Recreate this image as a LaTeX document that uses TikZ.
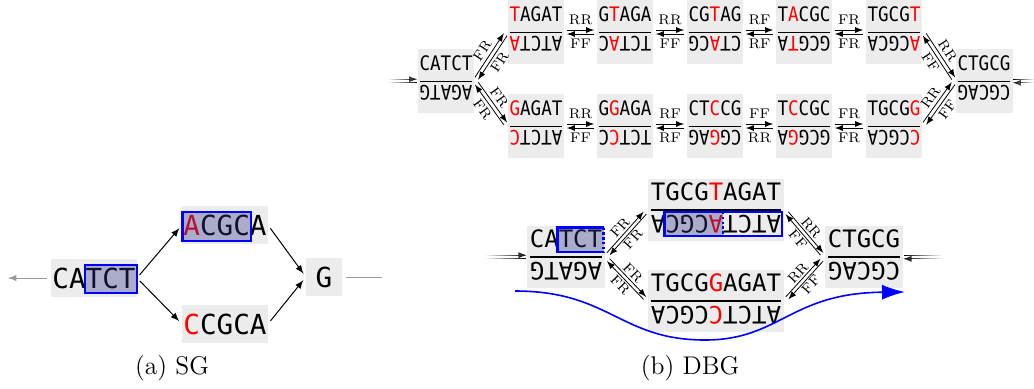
\documentclass[tikz,border=0pt]{standalone}
\usepackage{fontspec}
\usepackage{graphicx}
\usetikzlibrary{calc,arrows.meta,fadings}
\newfontfamily\seqfont{DejaVu Sans Mono}
\newfontfamily\seqnarrow[FakeStretch=0.88]{DejaVu Sans Mono}
\newcommand{\rd}[1]{\textcolor{red}{#1}}
\newcommand{\dstr}[2]{\vbox{\hbox{#1}\kern0.5em\hrule height 0.6pt\kern0.15em\hbox{\rotatebox[origin=c]{180}{#2}}\kern0.3em}}
\newcommand{\dstrw}[2]{\vbox{\hbox{#1}\kern0.35em\hrule height 0.6pt\kern0.2em\hbox{\rotatebox[origin=c]{180}{#2}}\kern0.15em}}
\tikzfading[name=fade left, left color=transparent!100, right color=transparent!0]
\tikzfading[name=fade right, left color=transparent!0, right color=transparent!100]

\begin{document}
\begin{tikzpicture}[x=0.5pt, y=-0.5pt]
    % Define styles
    \tikzstyle{dna} = [fill=gray!15, inner xsep=1pt, inner ysep=3.5pt]
    \tikzstyle{seqtop} = [dna, font=\seqnarrow\fontsize{10}{12}\selectfont]
    \tikzstyle{seqdbg} = [dna, inner xsep=1.5pt, inner ysep=2pt, font=\seqfont\fontsize{12}{14}\selectfont]
    \tikzstyle{seqsg} = [dna, inner xsep=0.5pt, inner ysep=4.4pt, text height=10.2pt, text depth=0pt, font=\seqfont\fontsize{13.8}{16}\selectfont]
    \tikzstyle{arrow} = [->, >=latex, line width=0.4pt]
    \tikzstyle{lab} = [inner sep=1pt, font=\fontsize{7}{8}\selectfont]
    \tikzstyle{labdbg} = [inner sep=0.6pt, font=\fontsize{7}{8}\selectfont]
    \tikzstyle{hl} = [fill={rgb,255:red,50;green,50;blue,140}, fill opacity=0.35]
    \tikzstyle{hlframe} = [draw=blue, line width=1.1pt]
    \tikzstyle{inarrow} = [line width=0.45pt, black!40]
    \tikzstyle{caption} = [font=\fontsize{12.8}{15}\selectfont]

    \useasboundingbox (0,0) rectangle (1034,388);

    % Top graph: end nodes
    \node[seqtop] (c0) at (446,81) {\dstr{CATCT}{AGATG}};
    \node[seqtop] (c6) at (984,81) {\dstr{CTGCG}{CGCAG}};

    % Top graph: upper and lower paths
    \foreach \n/\x/\s/\r in {u1/536/{\rd{T}AGAT}/{ATCT\rd{A}}, u2/625/{G\rd{T}AGA}/{TCT\rd{A}C}, u3/715/{CG\rd{T}AG}/{CT\rd{A}CG}, u4/804/{T\rd{A}CGC}/{GCG\rd{T}A}, u5/894/{TGCG\rd{T}}/{\rd{A}CGCA}}
        \node[seqtop] (\n) at (\x,32) {\dstr{\s}{\r}};
    \foreach \n/\x/\s/\r in {l1/536/{\rd{G}AGAT}/{ATCT\rd{C}}, l2/625/{G\rd{G}AGA}/{TCT\rd{C}C}, l3/715/{CT\rd{C}CG}/{CG\rd{G}AG}, l4/804/{T\rd{C}CGC}/{GCG\rd{G}A}, l5/894/{TGCG\rd{G}}/{\rd{C}CGCA}}
        \node[seqtop] (\n) at (\x,126) {\dstr{\s}{\r}};

    % Top graph: paired edges along the paths
    \foreach \a/\b/\p/\q in {u1/u2/RR/FF, u2/u3/RR/FF, u3/u4/RF/RF, u4/u5/FR/FR, l1/l2/RR/FF, l2/l3/RF/RF, l3/l4/FF/RR, l4/l5/FR/FR} {
        \draw[arrow, shorten >=1pt, shorten <=1pt] ([yshift=1pt]\a.east) -- node[lab, above=1.5pt] {\p} ([yshift=1pt]\b.west);
        \draw[arrow, <-, shorten >=1pt, shorten <=1pt] ([yshift=-1pt]\a.east) -- node[lab, below=1.5pt] {\q} ([yshift=-1pt]\b.west);
    }

    % Top graph: paired edges to and from the end nodes
    \foreach \a/\b/\p/\q in {c0/u1/FR/FR, c0/l1/FR/FR, u5/c6/RR/FF, l5/c6/RR/FF} {
        \draw[arrow, shorten >=1.5pt, shorten <=1.5pt] ($(\a.east)!1pt!90:(\b.west)$) -- node[lab, sloped, above=0.5pt] {\p} ($(\b.west)!1pt!-90:(\a.east)$);
        \draw[arrow, <-, shorten >=1.5pt, shorten <=1.5pt] ($(\a.east)!1pt!-90:(\b.west)$) -- node[lab, sloped, below=0.5pt] {\q} ($(\b.west)!1pt!90:(\a.east)$);
    }

    % Top graph: open ends
    \coordinate (ci) at (388,81);
    \coordinate (co) at (1034,81);
    \draw[arrow, path fading=fade left] ([yshift=-0.9pt]ci) -- ([yshift=-0.9pt]c0.west) ([yshift=0.9pt]ci) -- ([yshift=0.9pt]c0.west);
    \draw[arrow, path fading=fade right] ([yshift=0.9pt]co) -- ([yshift=0.9pt]c6.east) ([yshift=-0.9pt]co) -- ([yshift=-0.9pt]c6.east);

    % (a) SG
    \node[seqsg] (s0) at (94,278) {CATCT};
    \node[seqsg] (s1) at (225,225) {\rd{A}CGCA};
    \node[seqsg] (s2) at (225,324) {\rd{C}CGCA};
    \node[seqsg, inner xsep=4.7pt] (s3) at (324,277) {G};
    \draw[arrow, line width=0.5pt, shorten >=2pt, shorten <=2pt] (s0.east) -- (s1.west);
    \draw[arrow, line width=0.5pt, shorten >=2pt, shorten <=2pt] (s0.east) -- (s2.west);
    \draw[arrow, line width=0.5pt, shorten >=2pt, shorten <=2pt] (s1.east) -- (s3.west);
    \draw[arrow, line width=0.5pt, shorten >=2pt, shorten <=2pt] (s2.east) -- (s3.west);
    \coordinate (sl) at (8,278);
    \coordinate (sr) at (382,277);
    \draw[inarrow, <-, >=latex, shorten >=2pt] (sl) -- (s0.west);
    \draw[inarrow, shorten <=2pt] (s3.east) -- (sr);
    \fill[hl] ($(s0.center)+(-9,-13)$) rectangle ($(s0.center)+(43,15)$);
    \draw[hlframe] ($(s0.center)+(-9,-13)$) rectangle ($(s0.center)+(43,15)$);
    \fill[hl] ($(s1.center)+(-42.5,-13)$) rectangle ($(s1.center)+(26,16)$);
    \draw[hlframe] ($(s1.center)+(-42.5,-13)$) rectangle ($(s1.center)+(26,16)$);

    % (b) DBG
    \node[seqdbg] (d0) at (566,257) {\dstrw{CATCT}{AGATG}};
    \node[seqdbg] (d1) at (716,210) {\dstrw{TGCG\rd{T}AGAT}{ATCT\rd{A}CGCA}};
    \node[seqdbg] (d2) at (716,301) {\dstrw{TGCG\rd{G}AGAT}{ATCT\rd{C}CGCA}};
    \node[seqdbg] (d3) at (864,257) {\dstrw{CTGCG}{CGCAG}};
    \foreach \a/\b/\p/\q in {d0/d1/FR/FR, d0/d2/FR/FR, d1/d3/RR/FF, d2/d3/RR/FF} {
        \draw[arrow, shorten >=2pt, shorten <=2pt] ($(\a.east)!0.9pt!90:(\b.west)$) -- node[labdbg, sloped, above=0.2pt] {\p} ($(\b.west)!0.9pt!-90:(\a.east)$);
        \draw[arrow, <-, shorten >=2pt, shorten <=2pt] ($(\a.east)!0.9pt!-90:(\b.west)$) -- node[labdbg, sloped, below=0.2pt] {\q} ($(\b.west)!0.9pt!90:(\a.east)$);
    }
    \coordinate (di) at (485,257);
    \coordinate (do) at (942,257);
    \draw[arrow, path fading=fade left] ([yshift=-0.9pt]di) -- ([yshift=-0.9pt]d0.west) ([yshift=0.9pt]di) -- ([yshift=0.9pt]d0.west);
    \draw[arrow, path fading=fade right] ([yshift=0.9pt]do) -- ([yshift=0.9pt]d3.east) ([yshift=-0.9pt]do) -- ([yshift=-0.9pt]d3.east);

    % Highlighted k-mers
    \fill[hl] ($(d0.center)+(-8.5,-29.5)$) rectangle ($(d0.center)+(37.5,-5)$);
    \draw[hlframe] ($(d0.center)+(37.5,-29.5)$) -- ($(d0.center)+(-8.5,-29.5)$) -- ($(d0.center)+(-8.5,-5)$) -- ($(d0.center)+(37.5,-5)$);
    \draw[hlframe, dash pattern=on 1.2pt off 1.2pt] ($(d0.center)+(37.5,-29.5)$) -- ($(d0.center)+(37.5,-5)$);
    \fill[hl] ($(d1.center)+(-51.5,2)$) rectangle ($(d1.center)+(7.2,26)$);
    \draw[hlframe] ($(d1.center)+(-51.5,2)$) rectangle ($(d1.center)+(66,26)$);
    \draw[hlframe, dash pattern=on 1.2pt off 1.2pt] ($(d1.center)+(7.2,2)$) -- ($(d1.center)+(7.2,26)$);

    % Walk through the graph
    \coordinate (ws) at (515,291);
    \coordinate (we) at (905,292);
    \draw[blue, line width=0.8pt, -{Latex[length=11.5pt, width=7.5pt]}] (ws) .. controls (610,291) and (620,340) .. (705,340) .. controls (780,340) and (790,293) .. (we);

    % Captions
    \node[caption] (capa) at (172,368) {(a) SG};
    \node[caption] (capb) at (690,368) {(b) DBG};

\end{tikzpicture}
\end{document}
